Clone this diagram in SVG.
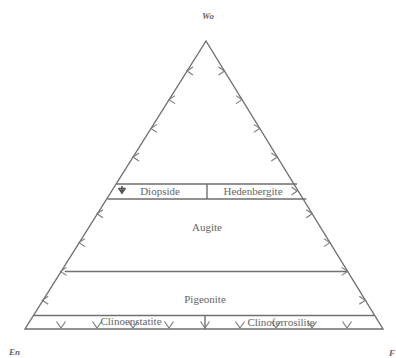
<svg xmlns="http://www.w3.org/2000/svg" width="396" height="358" viewBox="0 0 396 358">
<style>
.ln{fill:none;stroke:#6f6f6f;stroke-width:1.4;stroke-linejoin:miter}
.tk{fill:none;stroke:#7a7a7a;stroke-width:1.1}
.lb{font-family:"Liberation Serif",serif;font-size:11px;fill:#666;text-anchor:middle}
.ax{font-family:"Liberation Serif",serif;font-size:9px;font-style:italic;font-weight:bold;fill:#666}
</style>
<rect width="396" height="358" fill="#fff"/>
<g id="connectors">
<path id="triangle" class="ln" d="M206,41 L383,329 L25,329 Z"/>
<path class="ln" d="M116.5,184 L297,184 M107.5,199 L306.3,199 M207,184 L207,199 M64.7,271.5 L347,271.5 M33.6,315.5 L374.5,315.5 M205,315.5 L205,329"/>
<g id="left-ticks" class="tk">
<path d="M193,67 L187,71 L193,75"/>
<path d="M175,95.6 L169,99.6 L175,103.6"/>
<path d="M157,124.4 L151,128.4 L157,132.4"/>
<path d="M139,153 L133,157 L139,161"/>
<path d="M118.5,188 L122,193 L125.5,188 M122,186 L122,193 M119,188.5 L125,188.5" stroke="#555" stroke-width="1.6"/>
<path d="M103,209.8 L97,213.8 L103,217.8"/>
<path d="M85,238.6 L79,242.6 L85,246.6"/>
<path d="M66.5,267.4 L60.5,271.4 L66.5,275.4"/>
<path d="M48.2,296.2 L42.2,300.2 L48.2,304.2"/>
</g>
<g id="right-ticks" class="tk">
<path d="M218.5,67 L224.5,71 L218.5,75"/>
<path d="M236,95.6 L242,99.6 L236,103.6"/>
<path d="M253.7,124.4 L259.7,128.4 L253.7,132.4"/>
<path d="M271.3,153 L277.3,157 L271.3,161"/>
<path d="M291.5,187 L297,191 L291.5,195"/>
<path d="M306.2,209.8 L312.2,213.8 L306.2,217.8"/>
<path d="M323.9,238.6 L329.9,242.6 L323.9,246.6"/>
<path d="M341.6,267.4 L347.6,271.4 L341.6,275.4"/>
<path d="M359.3,296.2 L365.3,300.2 L359.3,304.2"/>
</g>
<g id="bottom-ticks" class="tk">
<path d="M56.5,321.5 L61,328 L65.5,321.5"/>
<path d="M92.5,321.5 L97,328 L101.5,321.5"/>
<path d="M128.5,321.5 L133,328 L137.5,321.5"/>
<path d="M164.5,321.5 L169,328 L173.5,321.5"/>
<path d="M200.5,321.5 L205,328 L209.5,321.5"/>
<path d="M235.5,321.5 L240,328 L244.5,321.5"/>
<path d="M271.5,321.5 L276,328 L280.5,321.5"/>
<path d="M307.5,321.5 L312,328 L316.5,321.5"/>
<path d="M342.5,321.5 L347,328 L351.5,321.5"/>
</g>
</g>
<g id="node-wo"><text class="ax" x="208" y="19" text-anchor="middle">Wo</text></g>
<g id="node-en"><text class="ax" x="9" y="355">En</text></g>
<g id="node-fs"><text class="ax" x="389" y="356">F</text></g>
<g id="node-diopside"><text class="lb" x="160" y="195">Diopside</text></g>
<g id="node-hedenbergite"><text class="lb" x="253" y="195">Hedenbergite</text></g>
<g id="node-augite"><text class="lb" x="207" y="231">Augite</text></g>
<g id="node-pigeonite"><text class="lb" x="205" y="303">Pigeonite</text></g>
<g id="node-clinoenstatite"><text class="lb" x="131" y="325">Clinoenstatite</text></g>
<g id="node-clinoferrosilite"><text class="lb" x="281" y="326">Clinoferrosilite</text></g>
</svg>
